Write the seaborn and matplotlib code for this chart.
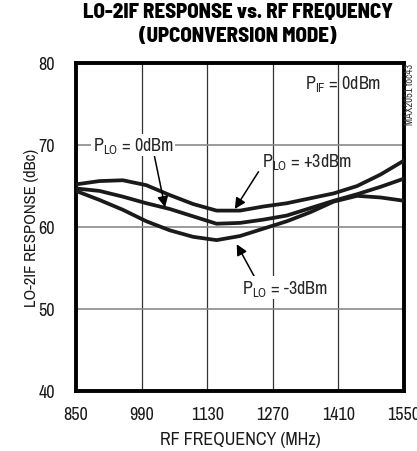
import numpy as np
import pandas as pd
import seaborn as sns
import matplotlib
matplotlib.use("Agg")
import matplotlib.pyplot as plt

# ---- data ----
freq_mhz = [850, 900, 950, 1000, 1050, 1100, 1150, 1200, 1250, 1300, 1350, 1400, 1450, 1500, 1550]
resp_plo_p3 = [65.2, 65.6, 65.7, 65.1, 63.9, 62.8, 62.0, 62.0, 62.5, 62.9, 63.5, 64.1, 65.0, 66.4, 68.1]
resp_plo_0 = [64.7, 64.4, 63.7, 62.9, 62.2, 61.3, 60.4, 60.5, 60.9, 61.4, 62.3, 63.2, 64.0, 64.9, 65.9]
resp_plo_m3 = [64.4, 63.3, 62.1, 60.7, 59.6, 58.8, 58.4, 58.9, 59.8, 60.7, 61.8, 63.1, 63.8, 63.6, 63.2]
x_ticks = [850, 990, 1130, 1270, 1410, 1550]
y_ticks = [40, 50, 60, 70, 80]

sns.set_style("white")
FONT = 'Archivo Narrow'
TITLE_FONT = ['Barlow Semi Condensed', 'Barlow Condensed', 'DejaVu Sans']
plt.rcParams['font.family'] = [FONT, 'DejaVu Sans']
plt.rcParams['mathtext.fontset'] = 'custom'
plt.rcParams['mathtext.rm'] = FONT
plt.rcParams['mathtext.it'] = FONT
plt.rcParams['mathtext.bf'] = FONT

df = pd.DataFrame({
    'freq': freq_mhz * 3,
    'resp': resp_plo_p3 + resp_plo_0 + resp_plo_m3,
    'series': ['+3'] * len(freq_mhz) + ['0'] * len(freq_mhz) + ['-3'] * len(freq_mhz),
})

fig = plt.figure(figsize=(4.17, 4.52), dpi=100)
ax = fig.add_axes([76/417, 1-392/452, 328/417, 328/452])

for x in x_ticks[1:-1]:
    ax.axvline(x, color='#333333', lw=0.9, zorder=0)
for y in y_ticks[1:-1]:
    ax.axhline(y, color='#8a8a8a', lw=1.2, zorder=0)

sns.lineplot(data=df, x='freq', y='resp', units='series', estimator=None,
             color='#1a1a1a', lw=2.7, ax=ax, legend=False, zorder=3)

ax.set_xlim(850, 1550)
ax.set_ylim(40, 80)
ax.set_xticks(x_ticks)
ax.set_yticks(y_ticks)
ax.set_xticklabels([str(v) for v in x_ticks])
ax.set_yticklabels([str(v) for v in y_ticks])
ax.tick_params(axis='both', length=0, labelsize=13, colors='#1a1a1a')
ax.tick_params(axis='x', pad=11)
ax.tick_params(axis='y', pad=15)
for s in ax.spines.values():
    s.set_linewidth(2.8)
    s.set_color('black')
    s.set_visible(True)
ax.set_xlabel('RF FREQUENCY (MHz)', fontsize=13, color='#1a1a1a', labelpad=6)
ax.set_ylabel('LO-2IF RESPONSE (dBc)', fontsize=12, color='#1a1a1a', labelpad=0)

fig.text(238/417, 1-13/452, 'LO-2IF RESPONSE vs. RF FREQUENCY', ha='center', va='center',
         fontsize=15, fontweight=800, family=TITLE_FONT, color='black')
fig.text(238/417, 1-37/452, '(UPCONVERSION MODE)', ha='center', va='center',
         fontsize=15, fontweight=800, family=TITLE_FONT, color='black')

bbox = dict(facecolor='white', edgecolor='none', pad=1)
ap = dict(arrowstyle='-|>', color='black', lw=1.1, mutation_scale=16, shrinkA=0, shrinkB=0)
ax.annotate(r'$\mathrm{P_{LO}}$ = 0dBm', xy=(1040, 62.4), xytext=(972, 70.0),
            ha='center', va='center', fontsize=13, bbox=bbox, zorder=5,
            arrowprops=dict(ap, relpos=(0.76, 0.0)))
ax.annotate(r'$\mathrm{P_{LO}}$ = +3dBm', xy=(1189, 62.2), xytext=(1342, 68.1),
            ha='center', va='center', fontsize=13, zorder=5,
            arrowprops=dict(ap, relpos=(0.0, 0.2)))
ax.annotate(r'$\mathrm{P_{LO}}$ = -3dBm', xy=(1193, 57.9), xytext=(1296, 52.6),
            ha='center', va='center', fontsize=13, bbox=bbox, zorder=5,
            arrowprops=dict(ap, relpos=(0.15, 1.0)))
ax.text(1502, 77.6, r'$\mathrm{P_{IF}}$ = 0dBm', ha='right', va='center', fontsize=13, zorder=5)

fig.text(410/417, 1-64/452, 'MAX2051 toc43', rotation=90, ha='center', va='top', fontsize=7.5,
         color='#333333')

fig.savefig('out.png', dpi=100)
